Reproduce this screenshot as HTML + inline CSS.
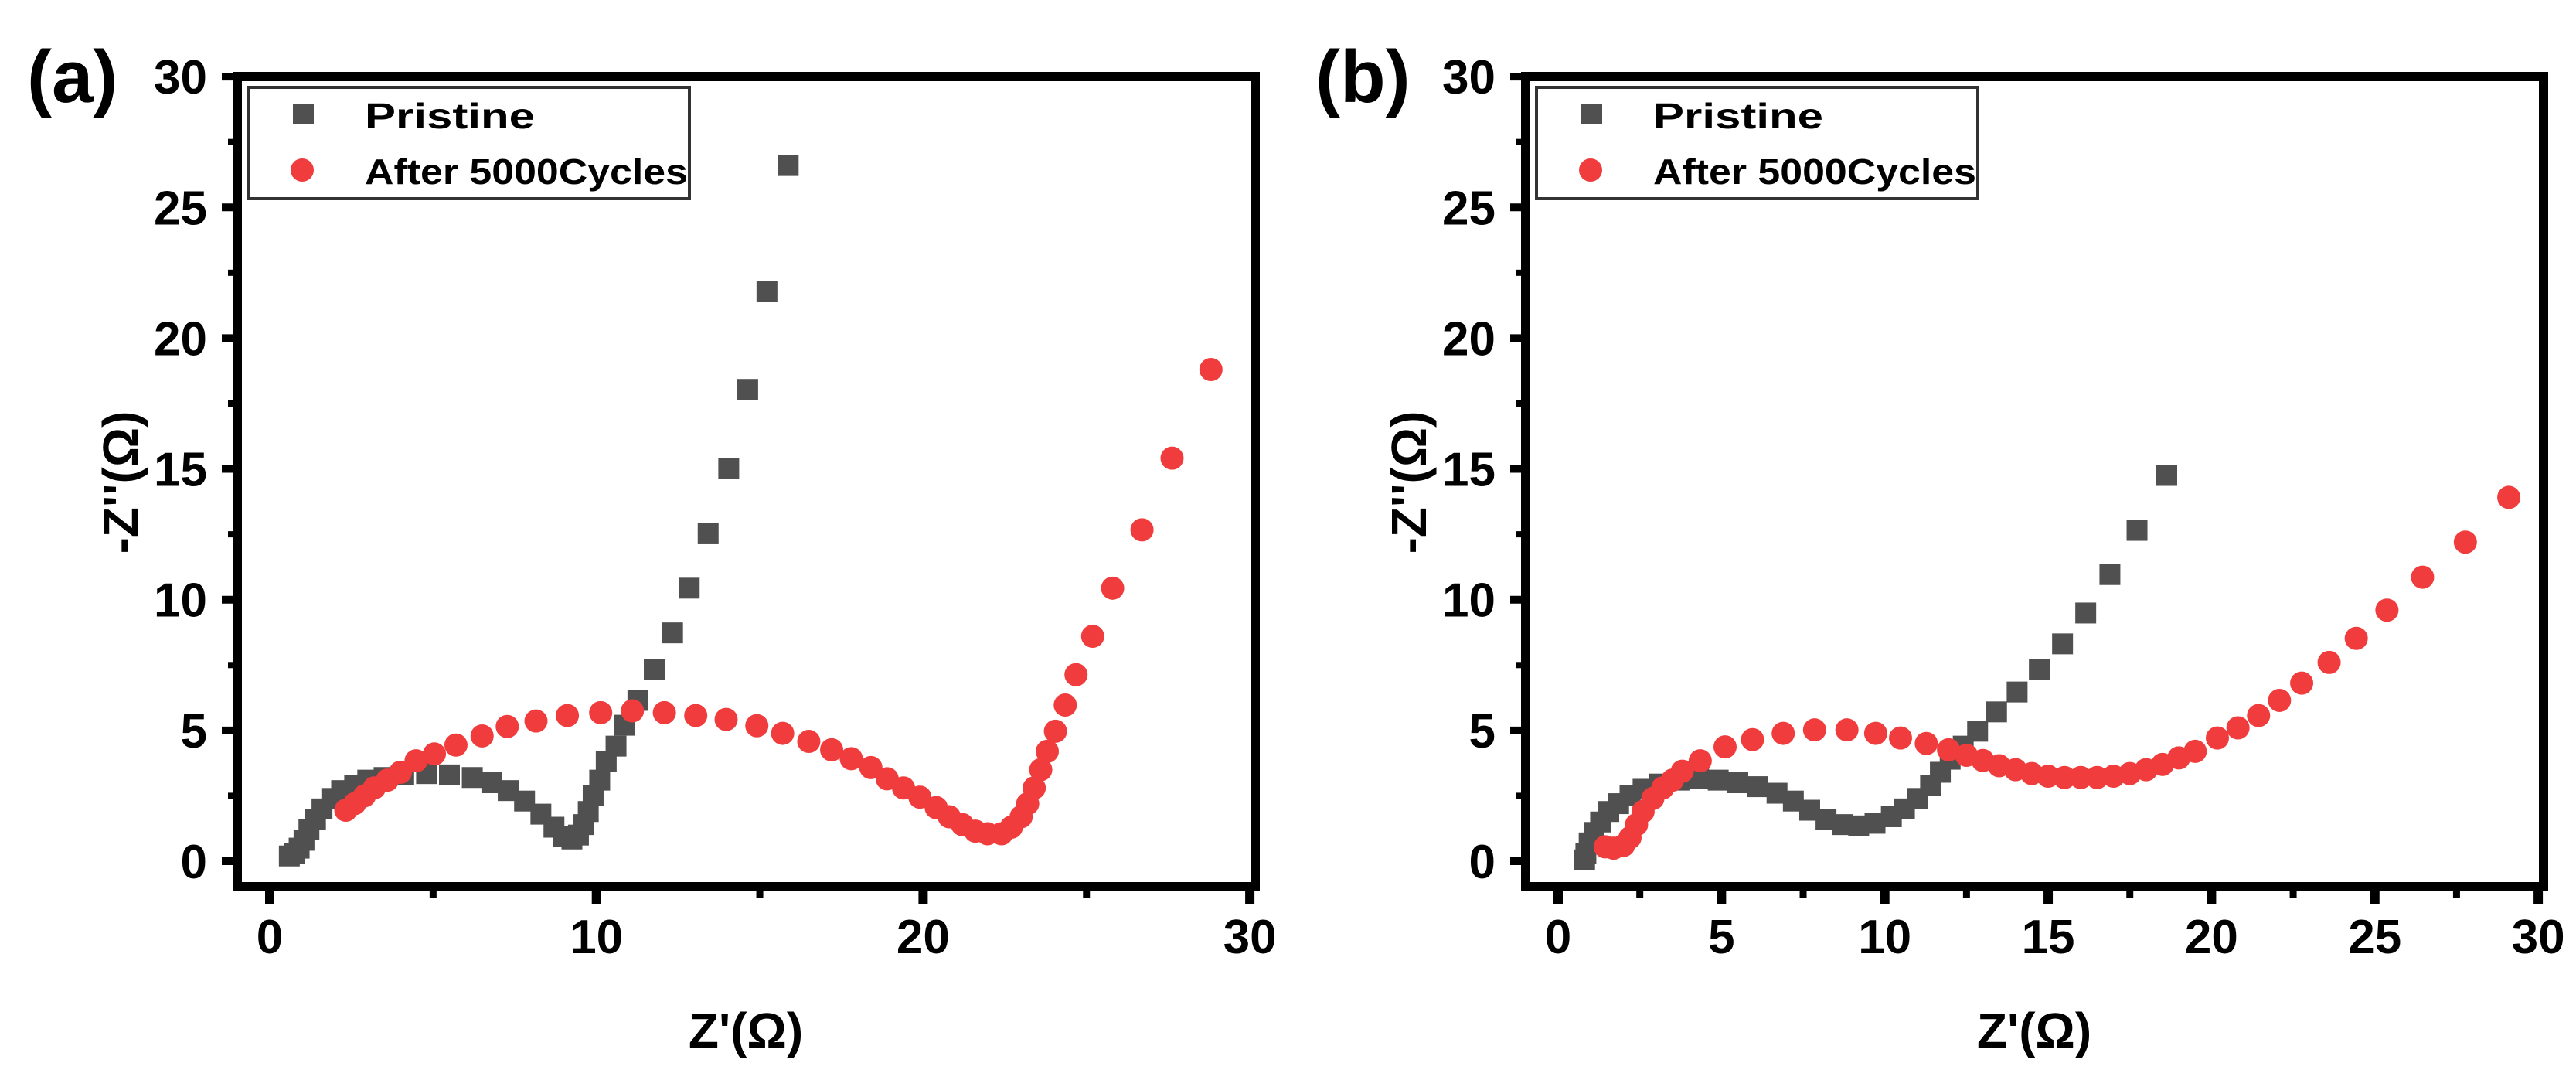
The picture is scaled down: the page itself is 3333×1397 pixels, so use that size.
<!DOCTYPE html>
<html><head><meta charset="utf-8"><style>
html,body{margin:0;padding:0;background:#fff;}
svg{display:block;}
text{font-family:"Liberation Sans",Arial,sans-serif;font-weight:bold;fill:#000;}
</style></head>
<body>
<svg id="fig" width="3333" height="1397" viewBox="0 0 3333 1397" xmlns="http://www.w3.org/2000/svg"></svg>
<script>
// Panel (a) data
const aPristineX=[0.6,0.75,0.9,1.05,1.2,1.4,1.6,1.9,2.2,2.6,3.0,3.5,4.1,4.8,5.5,6.2,6.8,7.3,7.8,8.3,8.7,9.0,9.25,9.45,9.6,9.75,9.9,10.1,10.3,10.6,10.85,11.27,11.77,12.33,12.84,13.42,14.05,14.63,15.22,15.87];
const aPristineY=[0.2,0.3,0.5,0.8,1.2,1.6,2.0,2.4,2.7,2.9,3.1,3.2,3.3,3.35,3.3,3.2,3.0,2.7,2.3,1.8,1.3,0.95,0.85,1.0,1.4,1.9,2.5,3.1,3.8,4.4,5.2,6.15,7.34,8.73,10.44,12.52,15.01,18.04,21.8,26.6];
const aCycledX=[2.33,2.6,2.9,3.2,3.6,4.0,4.48,5.04,5.7,6.5,7.27,8.15,9.11,10.13,11.1,12.08,13.04,13.97,14.91,15.7,16.5,17.2,17.8,18.4,18.9,19.4,19.9,20.4,20.8,21.2,21.6,21.97,22.4,22.7,23.0,23.2,23.4,23.6,23.8,24.05,24.35,24.68,25.19,25.8,26.7,27.62,28.81];
const aCycledY=[1.95,2.2,2.5,2.8,3.1,3.4,3.84,4.1,4.44,4.79,5.15,5.36,5.57,5.68,5.75,5.68,5.57,5.42,5.18,4.89,4.58,4.26,3.92,3.58,3.15,2.8,2.45,2.05,1.7,1.4,1.15,1.05,1.05,1.3,1.7,2.2,2.8,3.5,4.2,4.97,5.97,7.13,8.6,10.44,12.67,15.41,18.8];
// Panel (b) data
const bPristineX=[0.81,0.85,0.95,1.1,1.3,1.55,1.85,2.2,2.6,3.1,3.7,4.3,4.9,5.5,6.1,6.7,7.2,7.7,8.2,8.7,9.2,9.7,10.2,10.6,11.0,11.4,11.7,12.0,12.4,12.84,13.42,14.05,14.73,15.44,16.15,16.89,17.72,18.63];
const bPristineY=[0.05,0.3,0.7,1.1,1.5,1.9,2.2,2.5,2.75,2.95,3.1,3.15,3.1,3.0,2.85,2.6,2.3,1.95,1.6,1.4,1.35,1.45,1.7,2.0,2.4,2.9,3.4,3.9,4.4,4.97,5.71,6.47,7.34,8.31,9.49,10.96,12.65,14.75];
const bCycledX=[1.44,1.7,2.0,2.2,2.4,2.6,2.9,3.2,3.5,3.8,4.35,5.11,5.95,6.89,7.85,8.84,9.72,10.48,11.27,11.95,12.5,13.0,13.5,14.0,14.5,15.0,15.5,16.0,16.5,17.0,17.5,18.0,18.5,19.0,19.5,20.18,20.81,21.44,22.08,22.76,23.6,24.43,25.37,26.46,27.77,29.1];
const bCycledY=[0.55,0.5,0.6,0.9,1.4,1.9,2.4,2.8,3.1,3.44,3.84,4.37,4.65,4.89,5.02,5.02,4.89,4.71,4.5,4.26,4.05,3.85,3.65,3.5,3.35,3.25,3.2,3.2,3.2,3.25,3.35,3.5,3.7,3.95,4.2,4.71,5.1,5.57,6.15,6.81,7.6,8.52,9.6,10.86,12.2,13.91];
// Tick labels
const yTickLabels=["0","5","10","15","20","25","30"];
const aXTickLabels=["0","10","20","30"];
const bXTickLabels=["0","5","10","15","20","25","30"];
const legendLabels=["Pristine","After 5000Cycles"];

const NS="http://www.w3.org/2000/svg";
const svg=document.getElementById('fig');
function mk(tag,attrs,parent){const e=document.createElementNS(NS,tag);for(const k in attrs)e.setAttribute(k,attrs[k]);(parent||svg).appendChild(e);return e;}

function panel(dx,letter,px,py,cx,cy,xLabels,xStep,xMinor){
  const g=mk('g',{});
  
  
  const X0=349+dx, XU=42.27, Y0=1114, YU=33.83;
  const sx=v=>X0+v*XU, sy=v=>Y0-v*YU;
  // ticks
  const tg=mk('g',{},g);
  
  
  for(let v=0;v<=30;v+=2.5){
    const major=(v%5===0);
    mk('line',{x1:307+dx-(major?20:12),x2:307+dx,y1:sy(v),y2:sy(v),stroke:'#000','stroke-width':major?10:8},tg);
  }
  for(let v=0;v<=30.001;v+=xMinor){
    const major=(Math.abs(v/xStep-Math.round(v/xStep))<1e-6);
    mk('line',{x1:sx(v),x2:sx(v),y1:1147,y2:1147+(major?22:14),stroke:'#000','stroke-width':major?12:9},tg);
  }
  // frame
  const fr=mk('rect',{x:307+dx,y:99,width:1317,height:1048,fill:'none',stroke:'#000','stroke-width':12},g);
  
  
  // y labels
  yTickLabels.forEach((t,i)=>{
    const e=mk('text',{x:268+dx,y:sy(i*5)+22,'font-size':62,'text-anchor':'end'},g);
    
    
    e.textContent=t;
  });
  xLabels.forEach((t,i)=>{
    const e=mk('text',{x:sx(i*xStep),y:1233,'font-size':62,'text-anchor':'middle'},g);
    
    
    e.textContent=t;
  });
  // titles
  const xt=mk('text',{x:965+dx,y:1355,'font-size':64,'text-anchor':'middle'},g);
  
  
  xt.textContent="Z'(Ω)";
  const yt=mk('text',{x:0,y:0,'font-size':64,'text-anchor':'middle',transform:`translate(${178+dx},624) rotate(-90)`},g);
  
  
  yt.textContent="-Z''(Ω)";
  const pl=mk('text',{x:35+dx,y:132,'font-size':96},g);
  
  
  pl.textContent='('+letter+')';
  // series
  const s1=mk('g',{},g);
  
  
  px.forEach((v,i)=>{
    const r=mk('rect',{x:sx(v)-13.5,y:sy(py[i])-13.5,width:27,height:27,fill:'#505050'},s1);
    
    
  });
  const s2=mk('g',{},g);
  
  
  cx.forEach((v,i)=>{
    const c=mk('circle',{cx:sx(v),cy:sy(cy[i]),r:15,fill:'#f03c3c'},s2);
    
    
  });
  // legend
  const lg=mk('g',{},g);
  
  
  mk('rect',{x:321+dx,y:113,width:571,height:144,fill:'#fff',stroke:'#333','stroke-width':4},lg);
  mk('rect',{x:379+dx,y:134,width:27,height:27,fill:'#505050'},lg);
  mk('circle',{cx:391+dx,cy:220,r:15,fill:'#f03c3c'},lg);
  legendLabels.forEach((t,i)=>{
    const e=mk('text',{x:472+dx,y:166+i*72,'font-size':46,textLength:i?418:220,lengthAdjust:'spacingAndGlyphs'},lg);
    
    
    e.textContent=t;
  });
}
panel(0,'a',aPristineX,aPristineY,aCycledX,aCycledY,aXTickLabels,10,5);
panel(1667,'b',bPristineX,bPristineY,bCycledX,bCycledY,bXTickLabels,5,2.5);
</script>
</body></html>
